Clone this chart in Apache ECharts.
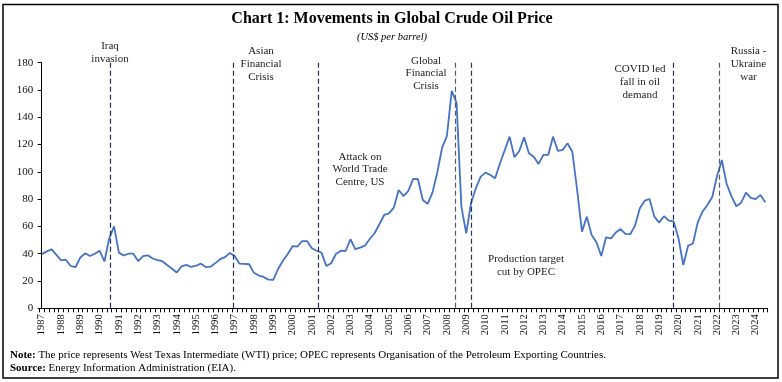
<!DOCTYPE html>
<html><head><meta charset="utf-8">
<script src="https://cdn.jsdelivr.net/npm/echarts@6/dist/echarts.min.js"></script>
<style>html,body{margin:0;padding:0;background:#fff}#c{width:782px;height:382px}</style>
</head><body><div id="c"></div>
<script>
// Quarterly real WTI price (US$ per barrel), 1987 Q1 .. 2024 Q3
const years = [1987,1988,1989,1990,1991,1992,1993,1994,1995,1996,1997,1998,1999,2000,2001,2002,2003,2004,2005,2006,2007,2008,2009,2010,2011,2012,2013,2014,2015,2016,2017,2018,2019,2020,2021,2022,2023,2024];
const prices = [
  39.7,41.5,43.3,39.3, 35.2,35.6,31.0,30.1, 37.2,40.3,38.3,40.0, 42.2,34.3,51.3,60.0,
  40.8,38.7,40.0,40.0, 34.6,38.3,38.8,36.5, 35.3,34.5,31.7,29.0, 26.2,30.8,31.8,30.3,
  31.2,32.7,30.2,30.5, 33.1,36.0,37.5,40.6, 38.4,32.7,32.5,32.3, 26.0,24.0,23.0,21.0,
  20.8,28.8,34.8,39.8, 45.5,45.2,49.3,49.3, 44.0,42.2,40.8,31.0, 33.0,39.8,42.2,42.0,
  50.6,43.3,44.5,45.9, 50.8,55.0,61.6,68.4, 69.6,73.8,86.7,82.3, 86.0,94.8,94.6,79.4,
  76.5,84.8,99.4,117.7, 126.3,159.3,150.5,74.5, 55.0,77.0,88.0,96.5, 99.4,97.7,95.3,106.3,
  116.0,125.8,110.7,115.3, 125.4,113.6,111.1,105.8, 112.4,112.4,125.8,115.3, 116.1,121.0,114.7,86.7,
  56.2,67.2,53.7,48.4, 38.3,52.0,51.3,55.5, 58.1,54.5,54.3,60.6, 73.3,78.9,80.1,67.2,
  62.8,67.5,64.2,63.7, 51.5,31.7,45.8,47.5, 63.0,71.0,75.7,81.6, 97.0,108.7,91.0,82.0,
  74.8,77.4,84.8,81.0, 80.0,83.1,77.8
];
const yTicks = [0,20,40,60,80,100,120,140,160,180];
// event markers: position in quarters from 1987 Q1
const eventNames = ['Iraq\ninvasion','Asian\nFinancial\nCrisis','Attack on\nWorld Trade\nCentre, US','Global\nFinancial\nCrisis','Production target\ncut by OPEC','COVID led\nfall in oil\ndemand','Russia -\nUkraine\nwar'];
const eventQuarters = [14.2, 39.7, 57.3, 85.7, 89.0, 130.9, 140.4];
const eventColors = ['#1f2a55','#1f2a55','#1f2a55','#555a66','#2a3050','#1f2a55','#555a66'];

const categories = prices.map((v,i)=> years[Math.floor(i/4)] + ' Q' + (i%4+1));
const SERIF = '"Liberation Serif", "DejaVu Serif", serif';

const chart = echarts.init(document.getElementById('c'), null, {renderer:'canvas'});
const annPos = [[110,40],[261,45],[360,150.5],[426,54.5],[526,253],[640,63],[748.5,45]];

chart.setOption({
  animation:false,
  backgroundColor:'#fff',
  grid:{left:39.3, right:14.3, top:62.7, bottom:73.7, containLabel:false},
  xAxis:[{
    type:'category', data:categories, boundaryGap:true,
    axisLine:{lineStyle:{color:'#000',width:1}},
    axisTick:{show:true, interval:0, length:4, lineStyle:{color:'#000'}},
    axisLabel:{interval:(i)=> i%4===0, rotate:90, formatter:(v)=>v.slice(0,4), fontFamily:SERIF, fontSize:10.5, color:'#111', margin:6},
    splitLine:{show:false}
  },{
    type:'value', min:-0.5, max:prices.length-0.5, show:false
  }],
  yAxis:{
    type:'value', min:0, max:180, interval:20,
    axisLine:{show:true, lineStyle:{color:'#000',width:1}},
    axisTick:{show:true, length:4, lineStyle:{color:'#000'}},
    axisLabel:{fontFamily:SERIF, fontSize:11, color:'#111', margin:6,
      formatter:(v)=> yTicks.includes(v) ? String(v) : ''},
    splitLine:{show:false}
  },
  series:[{
    type:'line', data:prices, xAxisIndex:0, symbol:'none',
    lineStyle:{color:'#4472C4', width:1.8}, z:3
  },{
    type:'line', data:[], xAxisIndex:1, symbol:'none',
    markLine:{
      silent:true, symbol:['none','none'], label:{show:false},
      data: eventQuarters.map((q,k)=>[
        {coord:[q,180], lineStyle:{color:eventColors[k], type:[5,3], width:1.2}},
        {coord:[q,0]}
      ])
    }
  }],
  graphic:[
    {type:'rect', shape:{x:3,y:4.5,width:775,height:373.5}, style:{fill:'none', stroke:'#000', lineWidth:1.5}, silent:true},
    {type:'text', style:{text:'Chart 1: Movements in Global Crude Oil Price', x:392, y:19, textAlign:'center', textVerticalAlign:'middle', font:'bold 16px '+SERIF, fill:'#000'}},
    {type:'text', style:{text:'(US$ per barrel)', x:392, y:37, textAlign:'center', textVerticalAlign:'middle', font:'italic 10.5px '+SERIF, fill:'#000'}},
    ...eventNames.map((t,k)=>({type:'text', style:{text:t, x:annPos[k][0], y:annPos[k][1], textAlign:'center', textVerticalAlign:'top', font:'11px '+SERIF, lineHeight:12.7, fill:'#222'}})),
    {type:'text', style:{text:'{b|Note:} The price represents West Texas Intermediate (WTI) price; OPEC represents Organisation of the Petroleum Exporting Countries.', x:10, y:355, textVerticalAlign:'middle', font:'11px '+SERIF, fill:'#000',
      rich:{b:{fontWeight:'bold', fontFamily:SERIF, fontSize:11}}}},
    {type:'text', style:{text:'{b|Source:} Energy Information Administration (EIA).', x:10, y:368, textVerticalAlign:'middle', font:'11px '+SERIF, fill:'#000',
      rich:{b:{fontWeight:'bold', fontFamily:SERIF, fontSize:11}}}}
  ]
});
</script></body></html>
